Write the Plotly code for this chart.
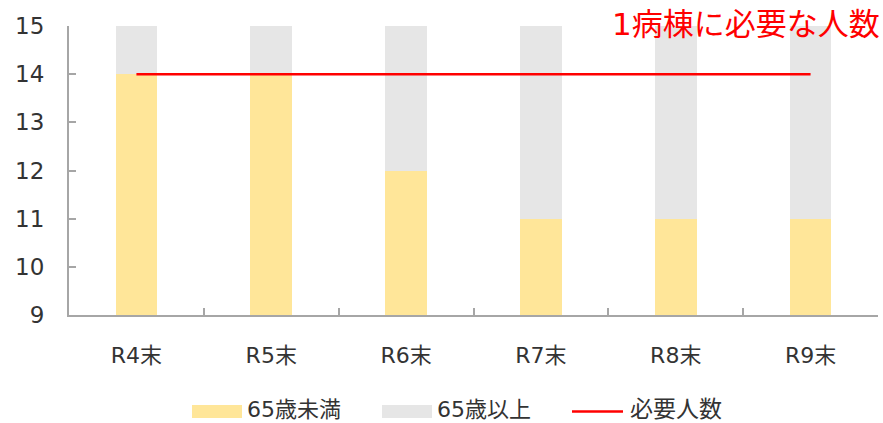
import plotly.graph_objects as go

# 病棟職員の年齢構成と必要人数
categories = ["R4末", "R5末", "R6末", "R7末", "R8末", "R9末"]
under65 = [14, 14, 12, 11, 11, 11]
over65 = [1, 1, 3, 4, 4, 4]
required = [14, 14, 14, 14, 14, 14]
y_ticks = [9, 10, 11, 12, 13, 14, 15]

FONT = "DejaVu Sans, Noto Sans CJK JP, sans-serif"
YELLOW = "#FFE699"
GREY = "#E6E6E6"
RED = "#FF0000"
AXIS = "#A6A6A6"
TEXT = "#333333"

W, H = 883, 423
L, R, T, B = 69, 5, 26, 108
pw, ph = W - L - R, H - T - B


def px(x):
    return (x - L) / pw


def py(y):
    return (H - B - y) / ph


fig = go.Figure()
fig.add_trace(go.Bar(x=categories, y=under65, name="65歳未満",
                     marker=dict(color=YELLOW, line=dict(width=0))))
fig.add_trace(go.Bar(x=categories, y=over65, name="65歳以上",
                     marker=dict(color=GREY, line=dict(width=0))))
fig.add_trace(go.Scatter(x=categories, y=required, name="必要人数", mode="lines",
                         line=dict(color=RED, width=2.5)))

# 凡例（手描き）
legend_y = 409
shapes = [
    dict(type="rect", xref="paper", yref="paper",
         x0=px(192), x1=px(242), y0=py(418), y1=py(405),
         fillcolor=YELLOW, line=dict(width=0)),
    dict(type="rect", xref="paper", yref="paper",
         x0=px(382), x1=px(432), y0=py(418), y1=py(405),
         fillcolor=GREY, line=dict(width=0)),
    dict(type="line", xref="paper", yref="paper",
         x0=px(572), x1=px(623), y0=py(411.5), y1=py(411.5),
         line=dict(color=RED, width=2.5)),
]
annotations = [
    dict(text="65歳未満", x=px(245), y=py(legend_y), xref="paper", yref="paper",
         xanchor="left", yanchor="middle", showarrow=False,
         font=dict(family=FONT, size=22, color=TEXT)),
    dict(text="65歳以上", x=px(435), y=py(legend_y), xref="paper", yref="paper",
         xanchor="left", yanchor="middle", showarrow=False,
         font=dict(family=FONT, size=22, color=TEXT)),
    dict(text="必要人数", x=px(628), y=py(legend_y), xref="paper", yref="paper",
         xanchor="left", yanchor="middle", showarrow=False,
         font=dict(family=FONT, size=23, color=TEXT)),
    dict(text="1病棟に必要な人数", x=px(882), y=py(24), xref="paper", yref="paper",
         xanchor="right", yanchor="middle", showarrow=False,
         font=dict(family=FONT, size=31, color=RED)),
]

fig.update_layout(
    width=W, height=H,
    margin=dict(l=L, r=R, t=T, b=B),
    barmode="stack",
    bargap=0.69,
    showlegend=False,
    plot_bgcolor="white",
    paper_bgcolor="white",
    font=dict(family=FONT, color=TEXT),
    shapes=shapes,
    annotations=annotations,
)
fig.update_xaxes(
    type="category",
    showline=True, linecolor=AXIS, linewidth=2,
    ticks="inside", tickson="boundaries", ticklen=7, tickcolor=AXIS, tickwidth=2,
    showgrid=False, zeroline=False,
    tickfont=dict(family=FONT, size=22, color=TEXT),
    ticklabelstandoff=20,
)
fig.update_yaxes(
    range=[9, 15],
    tickvals=y_ticks,
    showline=True, linecolor=AXIS, linewidth=2,
    ticks="inside", ticklen=7, tickcolor=AXIS, tickwidth=2,
    showgrid=False, zeroline=False,
    tickfont=dict(family=FONT, size=23, color=TEXT),
    ticklabelstandoff=18,
)

fig.write_html("out.html")
